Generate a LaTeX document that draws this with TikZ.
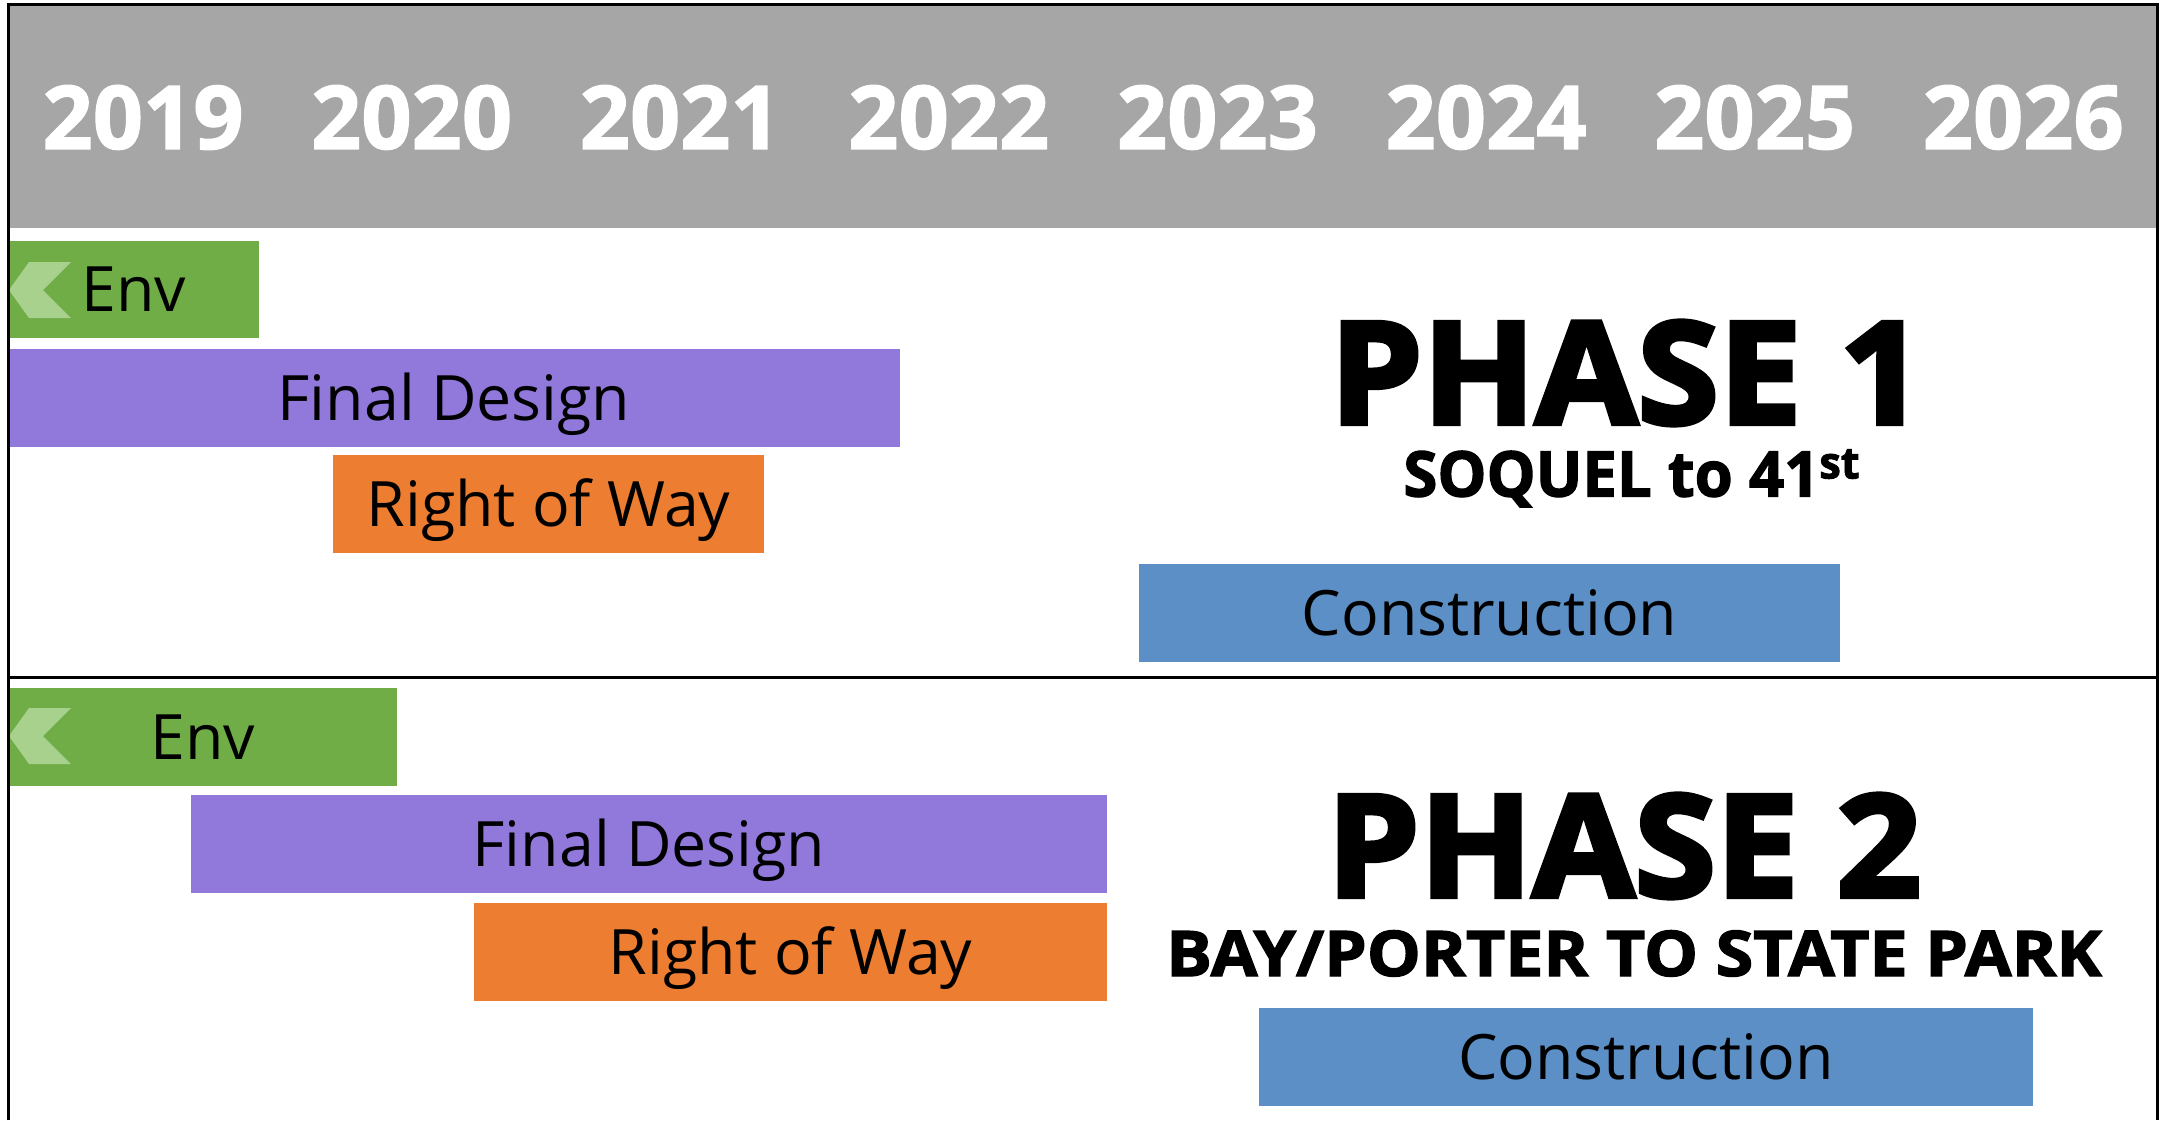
\documentclass[tikz,border=0pt]{standalone}
\usepackage{fontspec}
\newfontfamily\barfont{Open Sans}
\newfontfamily\yearfont{Open Sans}[BoldFeatures={FakeBold=1.5}]
\newfontfamily\phasefont{Open Sans}[BoldFeatures={FakeBold=3.5, FakeStretch=1.04}]
\newfontfamily\subfont{Open Sans}[BoldFeatures={FakeBold=2}]
\definecolor{hdrgray}{HTML}{A6A6A6}
\definecolor{envgreen}{HTML}{70AD47}
\definecolor{chevgreen}{HTML}{A9D18E}
\definecolor{fdpurple}{HTML}{9178DB}
\definecolor{roworange}{HTML}{ED7D31}
\definecolor{conblue}{HTML}{5B8FC5}
\newcommand\ganttbar[7]{%
  \node[barbox, fill=#6, minimum width={(#4-#2)*0.5pt}, minimum height={(#5-#3)*0.5pt}]
    (#1) at ({(#2+#4)/2},{(#3+#5)/2}) {#7};}
\begin{document}
\begin{tikzpicture}[x=0.5pt,y=-0.5pt,
  barbox/.style={inner sep=0pt, outer sep=0pt, draw=none,
    font=\barfont\fontsize{31.3pt}{31.3pt}\selectfont, text height=22.3pt, text depth=0pt},
  yearlabel/.style={inner sep=0pt, text=white,
    font=\yearfont\bfseries\fontsize{44pt}{44pt}\selectfont, text height=31.4pt, text depth=0pt},
  phasetitle/.style={inner sep=0pt,
    font=\phasefont\bfseries\fontsize{71pt}{71pt}\selectfont, text height=50.7pt, text depth=0pt},
  phasesub/.style={inner sep=0pt,
    font=\subfont\bfseries\fontsize{31.5pt}{31.5pt}\selectfont, text height=22.5pt, text depth=0pt},
  frameline/.style={line width=1.5pt, black},
  chevron/.style={fill=chevgreen}]
\useasboundingbox (0,0) rectangle (2169,1120);
\fill[white] (0,0) rectangle (2169,1120);
% header
\fill[hdrgray] (8,4) rectangle (2157,228);
\foreach \yr [count=\i from 0] in {2019,2020,2021,2022,2023,2024,2025,2026}
  \node[yearlabel] (y\yr) at ({143+268.6*\i},117.5) {\yr};
% phase 1 bars
\ganttbar{env1}{8}{241}{259}{338}{envgreen}{Env}
\ganttbar{fd1}{8}{349}{900}{447}{fdpurple}{Final Design}
\ganttbar{row1}{333}{455}{764}{553}{roworange}{Right of Way}
\ganttbar{con1}{1139}{564}{1840}{662}{conblue}{Construction}
\fill[chevron] (29,262) -- (71,262) -- (43,290) -- (71,318) -- (29,318) -- (9,290) -- cycle;
% phase 2 bars
\ganttbar{env2}{8}{688}{397}{786}{envgreen}{Env}
\ganttbar{fd2}{191}{795}{1107}{893}{fdpurple}{Final Design}
\ganttbar{row2}{474}{903}{1107}{1001}{roworange}{Right of Way}
\ganttbar{con2}{1259}{1008}{2033}{1106}{conblue}{Construction}
\fill[chevron] (29,708) -- (71,708) -- (43,736) -- (71,764) -- (29,764) -- (9,736) -- cycle;
% phase titles
\node[phasetitle] (ph1) at (1627,373) {PHASE 1};
\node[phasesub] (sub1) at (1632,474) {\scalebox{0.98}[1]{SOQUEL to 41\textsuperscript{st}}};
\node[phasetitle] (ph2) at (1624,846) {PHASE 2};
\node[phasesub] (sub2) at (1634,953.5) {\scalebox{1.08}[1]{BAY/PORTER TO STATE PARK}};
% frame
\draw[frameline] (8,1120) -- (8,4) -- (2157,4) -- (2157,1120);
\draw[frameline] (8,677) -- (2157,677);
\end{tikzpicture}
\end{document}
